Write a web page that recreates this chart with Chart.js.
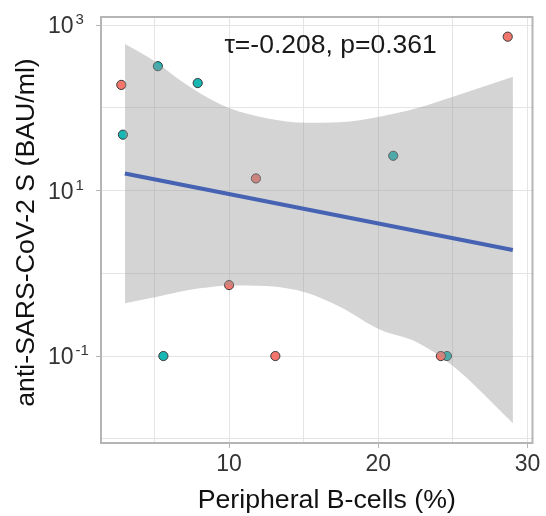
<!DOCTYPE html>
<html><head><meta charset="utf-8">
<script src="https://cdn.jsdelivr.net/npm/chart.js@4"></script>
<style>html,body{margin:0;padding:0;background:#fff}</style>
</head><body>
<canvas id="c" width="546" height="516"></canvas>
<script>
// ---- data ----
const redX  = [2.78, 11.8, 10.0, 13.1, 24.19, 28.67];
const redY  = [189, 14, 0.72, 0.1, 0.1, 723];
const tealX = [2.89, 5.23, 7.9, 5.6, 24.6, 21.0];
const tealY = [47.3, 318, 199, 0.1, 0.1, 26.3];

const fitX = [3.02, 29.01];
const fitY = [16.1, 1.91];

const bandX     = [3.03, 5.18, 6.7, 8.05, 10.05, 12.51, 15.19, 17.42, 20.09, 22.55, 25.0, 29.02];
const bandUpper = [589, 348, 216, 150, 98.4, 74.7, 65.9, 66.7, 78, 98.4, 136, 237];
const bandLower = [0.434, 0.521, 0.598, 0.658, 0.714, 0.70, 0.582, 0.394, 0.209, 0.148, 0.0758, 0.0154];

const xGridValues = [5, 10, 15, 20, 25, 30];
const xTickLabels = {10: '10', 20: '20', 30: '30'};
const yGridValues = [0.01, 0.1, 1, 10, 100, 1000];
const yTickLabels = [{v: 1000, base: '10', exp: '3'}, {v: 10, base: '10', exp: '1'}, {v: 0.1, base: '10', exp: '-1'}];

const annotText = 'τ=-0.208, p=0.361';
const annotPos = {x: 16.8, y: 557};

const xTitle = 'Peripheral B-cells (%)';
const yTitle = 'anti-SARS-CoV-2 S (BAU/ml)';

// ---- chart ----
const FONT = '"Liberation Sans", Arial, Helvetica, sans-serif';
const pts = (xs, ys) => xs.map((x, i) => ({x, y: ys[i]}));

const decor = {
  id: 'decor',
  afterDraw(chart) {
    const {ctx, chartArea: a, scales} = chart;
    const ys = scales.y, xs = scales.x;
    ctx.save();
    // y tick labels with superscripts
    ctx.fillStyle = '#333';
    ctx.textAlign = 'left';
    ctx.textBaseline = 'alphabetic';
    yTickLabels.forEach(t => {
      const py = ys.getPixelForValue(t.v);
      ctx.font = '23px ' + FONT;
      ctx.fillText(t.base, 48, py + 8);
      const w = ctx.measureText(t.base).width;
      ctx.font = '15px ' + FONT;
      ctx.fillText(t.exp, 48 + w + 2, py - 1);
    });
    // axis titles
    ctx.fillStyle = '#111';
    ctx.font = '26.7px ' + FONT;
    ctx.textAlign = 'center';
    ctx.textBaseline = 'alphabetic';
    ctx.fillText(xTitle, (a.left + a.right) / 2 + 10, 508);
    ctx.save();
    ctx.translate(34, (a.top + a.bottom) / 2 + 2.5);
    ctx.rotate(-Math.PI / 2);
    ctx.fillText(yTitle, 0, 0);
    ctx.restore();
    // annotation
    ctx.font = '26.5px ' + FONT;
    ctx.fillStyle = '#1a1a1a';
    ctx.textAlign = 'center';
    ctx.textBaseline = 'middle';
    ctx.fillText(annotText, xs.getPixelForValue(annotPos.x), ys.getPixelForValue(annotPos.y));
    // panel border
    ctx.strokeStyle = '#b5b5b5';
    ctx.lineWidth = 2;
    ctx.strokeRect(a.left, a.top, a.right - a.left, a.bottom - a.top);
    ctx.restore();
  }
};

new Chart(document.getElementById('c'), {
  type: 'scatter',
  data: {
    datasets: [
      {
        label: 'fit', data: pts(fitX, fitY), showLine: true,
        borderColor: '#4663b3', borderWidth: 4, pointRadius: 0, fill: false
      },
      {
        label: 'upper', data: pts(bandX, bandUpper), showLine: true,
        borderWidth: 0, borderColor: 'rgba(0,0,0,0)', pointRadius: 0,
        cubicInterpolationMode: 'monotone',
        fill: '+1', backgroundColor: 'rgba(153,153,153,0.42)'
      },
      {
        label: 'lower', data: pts(bandX, bandLower), showLine: true,
        borderWidth: 0, borderColor: 'rgba(0,0,0,0)', pointRadius: 0,
        cubicInterpolationMode: 'monotone', fill: false
      },
      {
        label: 'red', data: pts(redX, redY),
        pointRadius: 4.6, pointBackgroundColor: '#f2766c', pointBorderColor: '#3a3a3a', pointBorderWidth: 1
      },
      {
        label: 'teal', data: pts(tealX, tealY),
        pointRadius: 4.6, pointBackgroundColor: '#17b7b3', pointBorderColor: '#3a3a3a', pointBorderWidth: 1
      }
    ]
  },
  options: {
    responsive: false,
    animation: false,
    layout: {padding: {top: 17, right: 13.5, left: 0, bottom: 0}},
    plugins: {legend: {display: false}, tooltip: {enabled: false}},
    scales: {
      x: {
        type: 'linear', min: 1.42, max: 30.33,
        afterBuildTicks: s => { s.ticks = xGridValues.map(v => ({value: v})); },
        afterFit: s => { s.height = 73; },
        ticks: {
          callback: v => xTickLabels[v] || '',
          font: {family: FONT, size: 23}, color: '#333', padding: 3,
          maxRotation: 0, autoSkip: false
        },
        grid: {
          color: '#e4e4e4', lineWidth: 1, tickLength: 5,
          tickColor: c => (c.tick && xTickLabels[c.tick.value]) ? '#b5b5b5' : 'rgba(0,0,0,0)'
        },
        border: {display: false},
        title: {display: false}
      },
      y: {
        type: 'logarithmic', min: Math.pow(10, -2.051), max: Math.pow(10, 3.097),
        afterBuildTicks: s => { s.ticks = yGridValues.map(v => ({value: v})); },
        afterFit: s => { s.width = 101; },
        ticks: {callback: () => '', autoSkip: false},
        grid: {
          color: '#e4e4e4', lineWidth: 1, tickLength: 5,
          tickColor: c => (c.tick && yTickLabels.some(t => Math.abs(t.v - c.tick.value) < 1e-9 * t.v + 1e-12)) ? '#b5b5b5' : 'rgba(0,0,0,0)'
        },
        border: {display: false},
        title: {display: false}
      }
    }
  },
  plugins: [decor]
});
</script>
</body></html>
